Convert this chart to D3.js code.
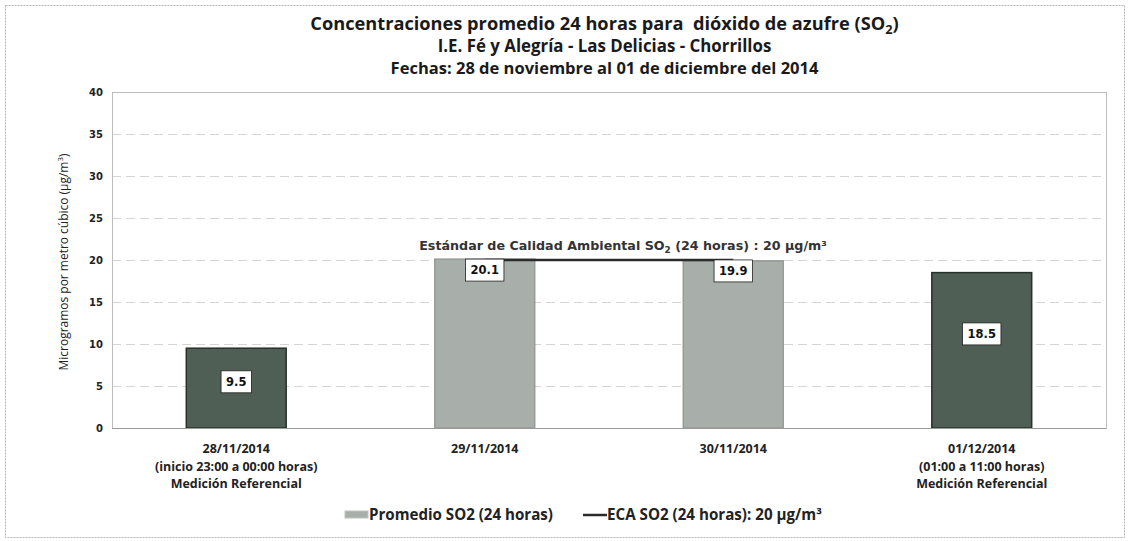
<!DOCTYPE html>
<html>
<head>
<meta charset="utf-8">
<script src="https://cdn.jsdelivr.net/npm/d3@7"></script>
<style>
  html, body { margin: 0; padding: 0; background: #fff; }
  svg { display: block; }
</style>
</head>
<body>
<svg id="chart" width="1130" height="541"></svg>
<script>
// ---- data ----
const categories = ["28/11/2014", "29/11/2014", "30/11/2014", "01/12/2014"];
const categorySubLabels = [
  ["(inicio 23:00 a 00:00 horas)", "Medición Referencial"],
  [],
  [],
  ["(01:00 a 11:00 horas)", "Medición Referencial"]
];
const so2Values = [9.5, 20.1, 19.9, 18.5];
const measurementType = ["referencial", "completa", "completa", "referencial"];
const labelAnchorValues = [5.5, 18.8, 18.7, 11.2]; // where each value box sits (in µg/m³)
const ecaValue = 20;
const ecaCategories = ["29/11/2014", "30/11/2014"];
const yTicks = [0, 5, 10, 15, 20, 25, 30, 35, 40];
const titleLines = [
  ["Concentraciones promedio 24 horas para  dióxido de azufre (SO", "2", ")"],
  ["I.E. Fé y Alegría - Las Delicias - Chorrillos"],
  ["Fechas: 28 de noviembre al 01 de diciembre del 2014"]
];
const yAxisTitle = ["Microgramos por metro cúbico (µg/m", "3", ")"];
const ecaAnnotation = ["Estándar de Calidad Ambiental SO", "2", " (24 horas) : 20 µg/m³"];
const legendItems = ["Promedio SO2 (24 horas)", "ECA SO2 (24 horas): 20 µg/m³"];

// ---- layout ----
const svg = d3.select("#chart");
const plot = { left: 112, right: 1106, top: 92, bottom: 428 };
const fills = { referencial: "#4f5f56", completa: "#a8aea9" };
const strokes = { referencial: "#27322b", completa: "#949a95" };

const x = d3.scaleBand().domain(categories).range([plot.left, plot.right])
  .paddingInner(0.598).paddingOuter(0.299);
const y = d3.scaleLinear().domain([0, 40]).range([plot.bottom, plot.top]);

function fit(sel, target) {
  const node = sel.node();
  const w = node.getComputedTextLength();
  const fs = parseFloat(sel.attr("font-size"));
  sel.attr("font-size", (fs * target / w).toFixed(2));
}

// outer frame
svg.append("rect").attr("x", 5.5).attr("y", 5.5).attr("width", 1119).attr("height", 532)
  .attr("fill", "none").attr("stroke", "#b5b5b5").attr("stroke-width", 1).attr("stroke-dasharray", "2,1");

// title
const titleTargets = [589, 334, 428];
titleLines.forEach((parts, i) => {
  const t = svg.append("text").attr("x", 604.5).attr("y", 30 + i * 22)
    .attr("text-anchor", "middle").attr("font-family", "Open Sans").attr("font-weight", "bold")
    .attr("font-size", 15).attr("fill", "#1a1a1a").style("white-space", "pre");
  t.append("tspan").text(parts[0]);
  if (parts.length > 1) {
    t.append("tspan").attr("dy", 4).attr("font-size", "0.7em").text(parts[1]);
    t.append("tspan").attr("dy", -4).text(parts[2]);
  }
  fit(t, titleTargets[i]);
});

// gridlines
svg.append("g").selectAll("line").data(yTicks.filter(d => d > 0 && d < 40)).join("line")
  .attr("x1", plot.left).attr("x2", plot.right)
  .attr("y1", d => Math.round(y(d)) + 0.5).attr("y2", d => Math.round(y(d)) + 0.5)
  .attr("stroke", "#d4d4d4").attr("stroke-width", 1).attr("stroke-dasharray", "9,5");

// plot border
svg.append("rect").attr("x", plot.left + 0.5).attr("y", y(40) + 0.5)
  .attr("width", plot.right - plot.left).attr("height", y(0) - y(40))
  .attr("fill", "none").attr("stroke", "#bdbdbd");

// y axis
const yAxis = svg.append("g").attr("transform", `translate(${plot.left},0)`)
  .call(d3.axisLeft(y).tickValues(yTicks).tickSize(0).tickPadding(9));
yAxis.select(".domain").remove();
yAxis.selectAll("text").attr("font-family", "DejaVu Sans").attr("font-weight", "bold")
  .attr("font-size", 10).attr("fill", "#222");

// y axis title
const yt = svg.append("text").attr("transform", `translate(68,262) rotate(-90)`)
  .attr("text-anchor", "middle").attr("font-family", "Open Sans").attr("font-size", 12.5).attr("fill", "#222");
yt.append("tspan").text(yAxisTitle[0]);
yt.append("tspan").attr("dy", -5).attr("font-size", "0.65em").text(yAxisTitle[1]);
yt.append("tspan").attr("dy", 5).text(yAxisTitle[2]);
fit(yt, 217);

// bars
svg.append("g").selectAll("rect").data(so2Values).join("rect")
  .attr("x", (d, i) => x(categories[i]))
  .attr("y", d => y(d))
  .attr("width", x.bandwidth())
  .attr("height", d => y(0) - y(d))
  .attr("fill", (d, i) => fills[measurementType[i]])
  .attr("stroke", (d, i) => strokes[measurementType[i]])
  .attr("stroke-width", 1.5);

// baseline
svg.append("line").attr("x1", plot.left).attr("x2", plot.right)
  .attr("y1", y(0) + 0.5).attr("y2", y(0) + 0.5).attr("stroke", "#9a9a9a");

// ECA line
const ecaLine = d3.line().x(d => x(d) + x.bandwidth() / 2).y(() => y(ecaValue));
svg.append("path").datum(ecaCategories).attr("d", ecaLine)
  .attr("fill", "none").attr("stroke", "#2b2b2b").attr("stroke-width", 2.5);

// ECA annotation
const ea = svg.append("text").attr("x", 623).attr("y", 250).attr("text-anchor", "middle")
  .attr("font-family", "DejaVu Sans").attr("font-weight", "bold").attr("font-size", 11)
  .attr("fill", "#333");
ea.append("tspan").text(ecaAnnotation[0]);
ea.append("tspan").attr("dy", 3).attr("font-size", "0.7em").text(ecaAnnotation[1]);
ea.append("tspan").attr("dy", -3).text(ecaAnnotation[2]);
fit(ea, 408);

// value labels
const lbl = svg.append("g").selectAll("g").data(so2Values).join("g")
  .attr("transform", (d, i) => `translate(${x(categories[i]) + x.bandwidth() / 2},${y(labelAnchorValues[i])})`);
lbl.append("text").attr("text-anchor", "middle").attr("dy", "0.36em")
  .attr("font-family", "DejaVu Sans").attr("font-weight", "bold").attr("font-size", 11.5)
  .attr("fill", "#111").text(d => d.toFixed(1));
lbl.each(function () {
  const g = d3.select(this);
  const bb = g.select("text").node().getBBox();
  g.insert("rect", "text").attr("x", bb.x - 5).attr("y", -11).attr("width", bb.width + 10).attr("height", 22)
    .attr("fill", "#fff").attr("stroke", "#222").attr("stroke-width", 0.8);
});

// category labels
const xAxis = svg.append("g");
categories.forEach((c, i) => {
  const cx = x(c) + x.bandwidth() / 2;
  const lines = [c].concat(categorySubLabels[i]);
  lines.forEach((ln, j) => {
    xAxis.append("text").attr("x", cx).attr("y", 453 + j * 17.5).attr("text-anchor", "middle")
      .attr("font-family", "Open Sans").attr("font-weight", "bold").attr("font-size", 12.5)
      .attr("fill", "#222").text(ln);
  });
});

// legend
const lg = svg.append("g");
lg.append("rect").attr("x", 345).attr("y", 511).attr("width", 23).attr("height", 7)
  .attr("fill", fills.completa).attr("stroke", "#c0c4c0");
const l1 = lg.append("text").attr("x", 369).attr("y", 520).attr("font-family", "Open Sans")
  .attr("font-weight", "bold").attr("font-size", 13).attr("fill", "#222").text(legendItems[0]);
fit(l1, 184);
lg.append("line").attr("x1", 583).attr("x2", 607).attr("y1", 515).attr("y2", 515)
  .attr("stroke", "#2b2b2b").attr("stroke-width", 2.5);
const l2 = lg.append("text").attr("x", 607).attr("y", 520).attr("font-family", "Open Sans")
  .attr("font-weight", "bold").attr("font-size", 13).attr("fill", "#222").text(legendItems[1]);
fit(l2, 215);
</script>
</body>
</html>
